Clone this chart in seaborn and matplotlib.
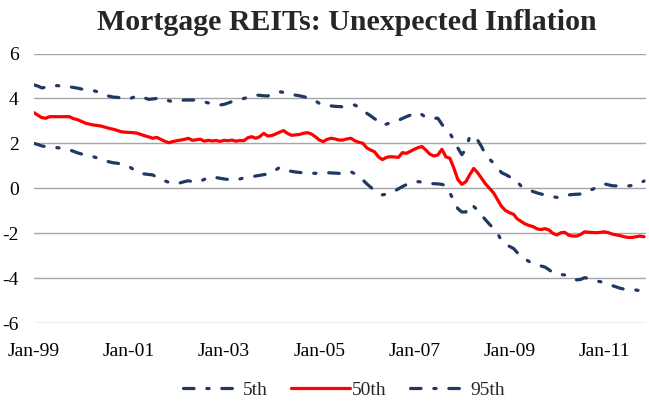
import matplotlib
matplotlib.use("Agg")
import matplotlib.pyplot as plt
import numpy as np
import pandas as pd
import seaborn as sns

# Monthly percentiles of unexpected inflation exposure, Jan-1999 .. Nov-2011
dates = pd.date_range("1999-01-01", periods=155, freq="MS")

p5 = [2.00, 1.95, 1.89, 1.86, 1.84, 1.82, 1.81, 1.78, 1.74, 1.71,
      1.65, 1.58, 1.53, 1.48, 1.44, 1.41, 1.35, 1.28, 1.23, 1.18,
      1.14, 1.12, 1.08, 1.02, 0.97, 0.85, 0.74, 0.67, 0.64, 0.62,
      0.60, 0.50, 0.40, 0.34, 0.27, 0.22, 0.20, 0.25, 0.30, 0.34,
      0.30, 0.27, 0.32, 0.40, 0.48, 0.52, 0.48, 0.45, 0.42, 0.40,
      0.38, 0.37, 0.42, 0.47, 0.49, 0.52, 0.55, 0.58, 0.61, 0.64,
      0.72, 0.82, 0.93, 0.86, 0.80, 0.76, 0.73, 0.71, 0.70, 0.69,
      0.68, 0.67, 0.68, 0.69, 0.70, 0.69, 0.68, 0.67, 0.69, 0.72,
      0.74, 0.65, 0.50, 0.38, 0.20, 0.05, -0.10, -0.22, -0.29, -0.25,
      -0.20, -0.12, -0.02, 0.08, 0.17, 0.23, 0.28, 0.30, 0.28, 0.24,
      0.22, 0.21, 0.20, 0.18, 0.12, -0.20, -0.55, -0.90, -1.05, -1.05,
      -0.72, -0.80, -0.97, -1.20, -1.40, -1.60, -1.78, -2.00, -2.32, -2.45,
      -2.58, -2.67, -2.85, -3.02, -3.15, -3.25, -3.33, -3.40, -3.45, -3.50,
      -3.62, -3.75, -3.80, -3.83, -3.85, -3.93, -4.00, -4.07, -4.05, -3.97,
      -4.00, -4.07, -4.12, -4.15, -4.20, -4.25, -4.32, -4.38, -4.44, -4.48,
      -4.50, -4.51, -4.52, -4.55, -4.58]

p50 = [3.37, 3.25, 3.15, 3.12, 3.19, 3.19, 3.19, 3.19, 3.19, 3.19,
       3.10, 3.06, 2.98, 2.90, 2.86, 2.82, 2.80, 2.77, 2.72, 2.67,
       2.63, 2.58, 2.52, 2.50, 2.49, 2.48, 2.46, 2.40, 2.34, 2.29,
       2.23, 2.27, 2.18, 2.10, 2.03, 2.08, 2.12, 2.15, 2.18, 2.23,
       2.14, 2.16, 2.19, 2.10, 2.14, 2.11, 2.13, 2.09, 2.14, 2.12,
       2.15, 2.10, 2.13, 2.12, 2.25, 2.30, 2.23, 2.30, 2.45, 2.33,
       2.35, 2.42, 2.50, 2.57, 2.45, 2.36, 2.38, 2.40, 2.45, 2.48,
       2.42, 2.30, 2.15, 2.08, 2.18, 2.23, 2.20, 2.15, 2.15, 2.20,
       2.23, 2.12, 2.05, 2.01, 1.80, 1.70, 1.63, 1.40, 1.28, 1.38,
       1.41, 1.40, 1.38, 1.59, 1.56, 1.65, 1.74, 1.82, 1.86, 1.70,
       1.52, 1.44, 1.49, 1.74, 1.40, 1.34, 0.90, 0.40, 0.18, 0.30,
       0.60, 0.89, 0.70, 0.45, 0.20, 0.00, -0.20, -0.50, -0.80, -0.98,
       -1.08, -1.15, -1.35, -1.47, -1.58, -1.65, -1.70, -1.80, -1.83, -1.79,
       -1.85, -2.00, -2.07, -1.97, -1.95, -2.08, -2.12, -2.12, -2.05, -1.93,
       -1.95, -1.96, -1.97, -1.95, -1.93, -1.97, -2.03, -2.07, -2.10, -2.15,
       -2.18, -2.18, -2.15, -2.12, -2.15]

p95 = [4.60, 4.55, 4.47, 4.50, 4.55, 4.57, 4.57, 4.55, 4.53, 4.52,
       4.49, 4.46, 4.42, 4.40, 4.37, 4.35, 4.30, 4.22, 4.15, 4.10,
       4.06, 4.05, 4.02, 4.00, 3.98, 4.05, 4.11, 4.08, 4.02, 3.96,
       3.98, 4.00, 4.02, 3.96, 3.90, 3.86, 3.88, 3.91, 3.93, 3.93,
       3.93, 3.93, 3.90, 3.85, 3.80, 3.77, 3.73, 3.71, 3.74, 3.80,
       3.86, 3.90, 3.95, 4.00, 4.05, 4.10, 4.15, 4.14, 4.12, 4.11,
       4.18, 4.25, 4.30, 4.27, 4.22, 4.18, 4.15, 4.12, 4.08, 4.04,
       4.00, 3.90, 3.78, 3.70, 3.68, 3.67, 3.65, 3.64, 3.63, 3.66,
       3.69, 3.71, 3.60, 3.47, 3.34, 3.22, 3.10, 2.98, 2.82, 2.86,
       2.92, 2.97, 3.03, 3.11, 3.19, 3.26, 3.33, 3.37, 3.28, 3.15,
       3.12, 3.12, 3.12, 2.85, 2.62, 2.45, 2.15, 1.80, 1.50, 1.75,
       2.30, 2.35, 2.15, 1.85, 1.50, 1.30, 1.12, 0.92, 0.70, 0.62,
       0.52, 0.47, 0.30, 0.10, 0.00, -0.08, -0.14, -0.20, -0.25, -0.29,
       -0.33, -0.37, -0.40, -0.35, -0.30, -0.29, -0.27, -0.26, -0.25, -0.18,
       -0.10, -0.04, 0.05, 0.13, 0.20, 0.16, 0.12, 0.11, 0.11, 0.11,
       0.11, 0.13, 0.18, 0.23, 0.33]

series_labels = ["5th", "50th", "95th"]
title = "Mortgage REITs: Unexpected Inflation"
y_ticks = [-6, -4, -2, 0, 2, 4, 6]
x_tick_labels = ["Jan-99", "Jan-01", "Jan-03", "Jan-05", "Jan-07", "Jan-09", "Jan-11"]

navy = "#1F3864"
red = "#FF0000"
dashdot = (0, (3.3, 4.0, 0.7, 4.0))

sns.set_theme(style="white")
plt.rcParams["font.family"] = ["Liberation Serif", "DejaVu Serif"]
plt.rcParams["axes.unicode_minus"] = False

fig = plt.figure(figsize=(6.49, 4.05), dpi=100)
ax = fig.add_axes([0.0524, 0.2017, 0.9430, 0.6662])

sns.lineplot(x=dates, y=p5, ax=ax, color=navy, linewidth=2.3,
             linestyle=dashdot, label=series_labels[0])
sns.lineplot(x=dates, y=p50, ax=ax, color=red, linewidth=2.3,
             label=series_labels[1])
sns.lineplot(x=dates, y=p95, ax=ax, color=navy, linewidth=2.3,
             linestyle=dashdot, label=series_labels[2])
for ln in ax.lines:
    ln.set_dash_capstyle("round")

ax.set_ylim(-6, 6)
ax.set_yticks(y_ticks)
ax.set_yticklabels([str(v) for v in y_ticks])
ax.set_xlim(pd.Timestamp("1999-01-01"), pd.Timestamp("2011-11-16"))
x_tick_pos = [pd.Timestamp(f"{y}-01-01") for y in range(1999, 2012, 2)]
ax.set_xticks(x_tick_pos)
ax.set_xticklabels(x_tick_labels)
ax.grid(axis="y", color="#A6A6A6", linewidth=1.0)
ax.grid(axis="x", visible=False)
ax.set_axisbelow(True)
for s in ax.spines.values():
    s.set_visible(False)
ax.tick_params(axis="both", length=0, labelsize=14, colors="black")
ax.tick_params(axis="y", pad=11)
ax.tick_params(axis="x", pad=14)
ax.set_xlabel("")
ax.set_ylabel("")

fig.text(0.535, 0.945, title, ha="center", va="center",
         fontsize=21.5, fontweight="bold")

leg = ax.legend(loc="center", bbox_to_anchor=(0.53, 0.037),
                bbox_transform=fig.transFigure, ncol=3, frameon=False,
                fontsize=14, handlelength=3.0, columnspacing=1.2,
                handletextpad=0.12)

fig.savefig("out.png", dpi=100)
